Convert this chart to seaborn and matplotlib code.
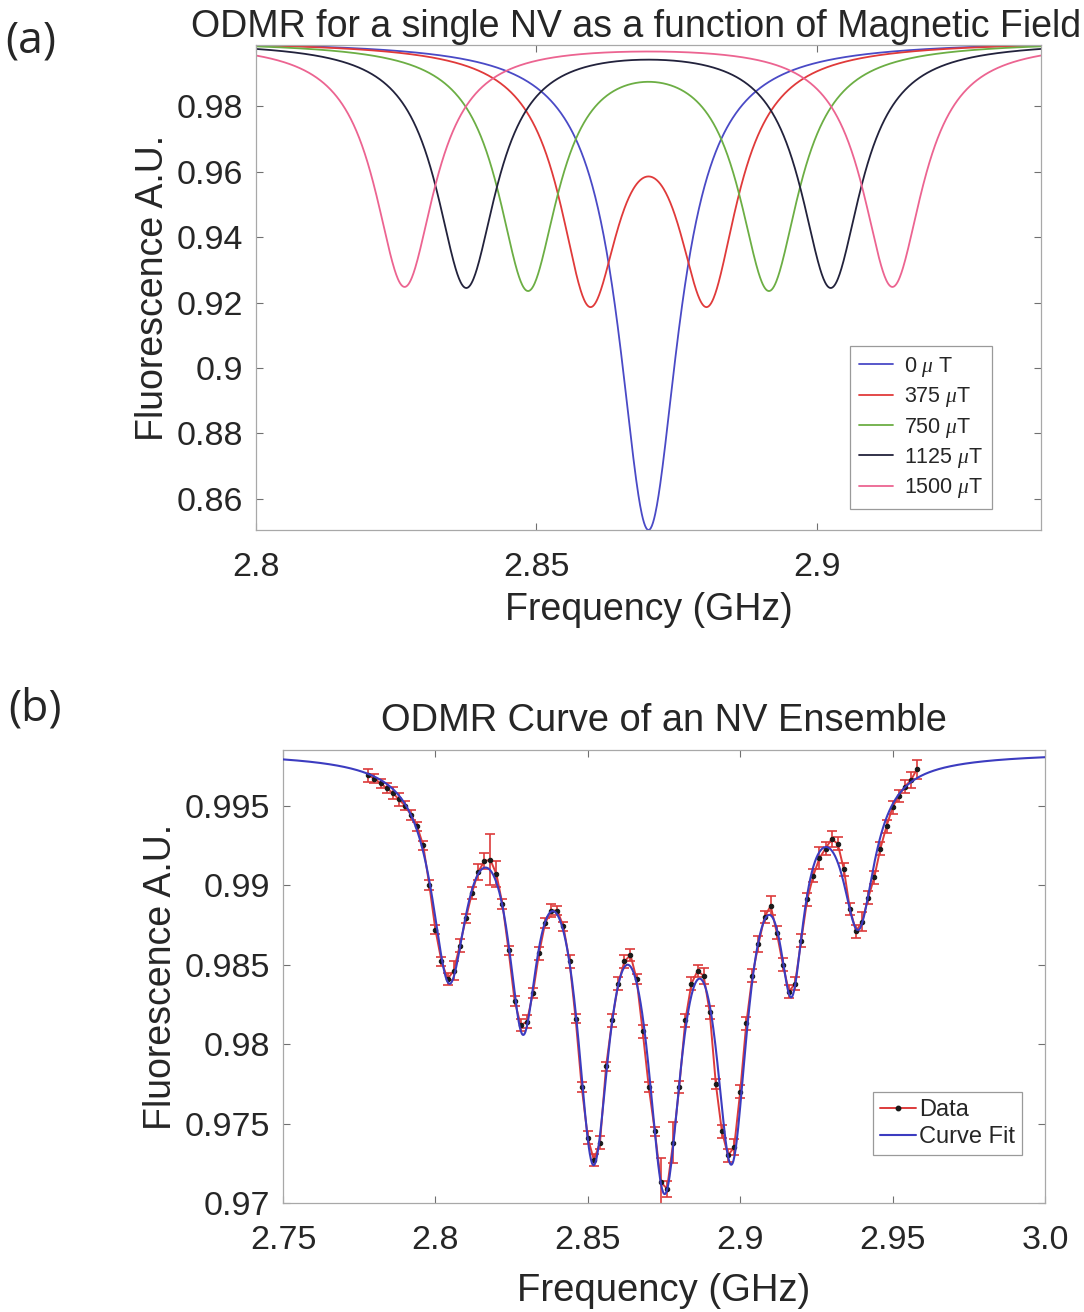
import numpy as np
import pandas as pd
import matplotlib
matplotlib.use("Agg")
import matplotlib.pyplot as plt
from matplotlib.lines import Line2D
import seaborn as sns

# ---------------- Panel (a): single NV, Lorentzian dips ----------------
field_labels = ["0 $\\mu$ T", "375 $\\mu$T", "750 $\\mu$T", "1125 $\\mu$T", "1500 $\\mu$T"]
dip_centers_a = [[2.8700], [2.8595, 2.8805], [2.8485, 2.8915], [2.8375, 2.9025], [2.8265, 2.9135]]
dip_depths_a = [[0.1495], [0.0748, 0.0748], [0.0748, 0.0748], [0.0748, 0.0748], [0.0748, 0.0748]]
hwhm_a = 0.0065
baseline_a = 1.0
colors_a = ["#4a4ac6", "#e03a3a", "#6cae44", "#22223c", "#ec6491"]
xticks_a = [2.8, 2.85, 2.9]
xticklabels_a = ["2.8", "2.85", "2.9"]
yticks_a = [0.86, 0.88, 0.90, 0.92, 0.94, 0.96, 0.98]
yticklabels_a = ["0.86", "0.88", "0.9", "0.92", "0.94", "0.96", "0.98"]

# ---------------- Panel (b): NV ensemble data ----------------
freq_b = [2.778, 2.780, 2.782, 2.784, 2.786, 2.788, 2.790, 2.792, 2.794, 2.796,
          2.798, 2.800, 2.802, 2.804, 2.806, 2.808, 2.810, 2.812, 2.814, 2.816,
          2.818, 2.820, 2.822, 2.824, 2.826, 2.828, 2.830, 2.832, 2.834, 2.836,
          2.838, 2.840, 2.842, 2.844, 2.846, 2.848, 2.850, 2.852, 2.854, 2.856,
          2.858, 2.860, 2.862, 2.864, 2.866, 2.868, 2.870, 2.872, 2.874, 2.876,
          2.878, 2.880, 2.882, 2.884, 2.886, 2.888, 2.890, 2.892, 2.894, 2.896,
          2.898, 2.900, 2.902, 2.904, 2.906, 2.908, 2.910, 2.912, 2.914, 2.916,
          2.918, 2.920, 2.922, 2.924, 2.926, 2.928, 2.930, 2.932, 2.934, 2.936,
          2.938, 2.940, 2.942, 2.944, 2.946, 2.948, 2.950, 2.952, 2.954, 2.956,
          2.958]
fluor_b = [0.9969, 0.9967, 0.9964, 0.9961, 0.9958, 0.9954, 0.9950, 0.9944, 0.9937, 0.9925,
           0.9900, 0.9872, 0.9852, 0.9841, 0.9846, 0.9862, 0.9879, 0.9895, 0.9908, 0.9915,
           0.9916, 0.9907, 0.9888, 0.9859, 0.9827, 0.9812, 0.9814, 0.9832, 0.9857, 0.9876,
           0.9884, 0.9884, 0.9874, 0.9852, 0.9816, 0.9773, 0.9741, 0.9727, 0.9738, 0.9786,
           0.9815, 0.9838, 0.9852, 0.9856, 0.9841, 0.9808, 0.9773, 0.9745, 0.9713, 0.9709,
           0.9738, 0.9773, 0.9815, 0.9838, 0.9846, 0.9843, 0.9820, 0.9775, 0.9745, 0.9730,
           0.9735, 0.9770, 0.9813, 0.9843, 0.9863, 0.9880, 0.9887, 0.9870, 0.9850, 0.9833,
           0.9838, 0.9865, 0.9891, 0.9906, 0.9917, 0.9923, 0.9929, 0.9926, 0.9910, 0.9885,
           0.9871, 0.9877, 0.9892, 0.9905, 0.9923, 0.9937, 0.9949, 0.9956, 0.9962, 0.9966,
           0.9973]
err_b = [0.0004, 0.0003, 0.0003, 0.0003, 0.0004, 0.0004, 0.0003, 0.0003, 0.0003, 0.0003,
         0.0003, 0.0003, 0.0003, 0.0004, 0.0006, 0.0004, 0.0003, 0.0004, 0.0005, 0.0005,
         0.0016, 0.0008, 0.0003, 0.0003, 0.0003, 0.0004, 0.0004, 0.0003, 0.0004, 0.0003,
         0.0004, 0.0003, 0.0003, 0.0004, 0.0003, 0.0003, 0.0004, 0.0004, 0.0004, 0.0003,
         0.0004, 0.0004, 0.0004, 0.0004, 0.0003, 0.0004, 0.0003, 0.0003, 0.0015, 0.0005,
         0.0013, 0.0004, 0.0004, 0.0004, 0.0004, 0.0005, 0.0004, 0.0003, 0.0004, 0.0004,
         0.0005, 0.0004, 0.0004, 0.0004, 0.0005, 0.0004, 0.0006, 0.0004, 0.0004, 0.0004,
         0.0004, 0.0004, 0.0004, 0.0004, 0.0007, 0.0004, 0.0005, 0.0004, 0.0004, 0.0004,
         0.0004, 0.0006, 0.0004, 0.0004, 0.0004, 0.0004, 0.0004, 0.0004, 0.0004, 0.0005,
         0.0006]
dip_centers_b = [2.8045, 2.8287, 2.8518, 2.8752, 2.8972, 2.9169, 2.9388]
xticks_b = [2.75, 2.80, 2.85, 2.90, 2.95, 3.00]
xticklabels_b = ["2.75", "2.8", "2.85", "2.9", "2.95", "3.0"]
yticks_b = [0.970, 0.975, 0.980, 0.985, 0.990, 0.995]
yticklabels_b = ["0.97", "0.975", "0.98", "0.985", "0.99", "0.995"]

# ---------------- style ----------------
sns.set_style("ticks")
plt.rcParams["font.family"] = ["Liberation Sans", "DejaVu Sans"]
plt.rcParams["mathtext.fontset"] = "custom"
plt.rcParams["mathtext.it"] = "Liberation Serif:italic"
plt.rcParams["mathtext.rm"] = "Liberation Sans"

TXT = "#262626"
SPINE = "#a8a8a8"

fig = plt.figure(figsize=(10.84, 13.12), dpi=100)


def lorentz(f, c, g):
    return 1.0 / (1.0 + ((f - c) / g) ** 2)


def style_axes(ax):
    for s in ax.spines.values():
        s.set_color(SPINE)
        s.set_linewidth(0.9)
    ax.tick_params(direction="in", length=5, width=0.8, color="#707070",
                   top=True, right=True, labelsize=24.5, labelcolor=TXT, pad=9)
    ax.tick_params(axis="x", pad=16)


# ---- Panel (a) ----
axA = fig.add_axes([256 / 1084, 1 - 530 / 1312, 785 / 1084, 485 / 1312])
f_a = np.linspace(2.8, 2.94, 1401)
rows = []
for lab, cs, ds in zip(field_labels, dip_centers_a, dip_depths_a):
    y = np.full_like(f_a, baseline_a)
    for c, d in zip(cs, ds):
        y = y - d * lorentz(f_a, c, hwhm_a)
    rows.append(pd.DataFrame({"freq": f_a, "fluor": y, "field": lab}))
dfA = pd.concat(rows, ignore_index=True)
sns.lineplot(data=dfA, x="freq", y="fluor", hue="field", hue_order=field_labels,
             palette=colors_a, linewidth=1.3, estimator=None, sort=False,
             legend=False, ax=axA)
axA.set_xlim(2.8, 2.94)
axA.set_ylim(dfA["fluor"].min(), dfA["fluor"].max())
axA.set_xticks(xticks_a)
axA.set_xticklabels(xticklabels_a)
axA.set_yticks(yticks_a)
axA.set_yticklabels(yticklabels_a)
style_axes(axA)
axA.set_xlabel("Frequency (GHz)", fontsize=27, color=TXT, labelpad=6)
axA.set_ylabel("Fluorescence A.U.", fontsize=27, color=TXT, labelpad=4)
axA.set_title("ODMR for a single NV as a function of Magnetic Field", fontsize=27,
              color=TXT, pad=6, x=0.484)
handlesA = [Line2D([0], [0], color=c, lw=1.3) for c in colors_a]
legA = fig.legend(handlesA, field_labels, loc="upper left",
                  bbox_to_anchor=(850 / 1084, 1 - 346 / 1312), fontsize=15.5,
                  frameon=True, fancybox=False, edgecolor="#9a9a9a",
                  handlelength=1.6, handletextpad=0.5, labelspacing=0.3,
                  borderpad=0.4, borderaxespad=0, framealpha=1)
legA.get_frame().set_linewidth(0.9)
for t in legA.get_texts():
    t.set_color(TXT)

# ---- Panel (b) ----
axB = fig.add_axes([283 / 1084, 1 - 1203 / 1312, 762 / 1084, 453 / 1312])
fd = np.array(freq_b)
vd = np.array(fluor_b)


def fit_resid(widths):
    M = np.column_stack([np.ones_like(fd)] +
                        [-lorentz(fd, c, w) for c, w in zip(dip_centers_b, widths)])
    coef = np.linalg.lstsq(M, vd, rcond=None)[0]
    return float(np.sum((M @ coef - vd) ** 2)), coef


widths = [0.006] * len(dip_centers_b)
grid = np.linspace(0.0025, 0.0120, 96)
for _ in range(5):
    for i in range(len(widths)):
        best = None
        for w in grid:
            trial = list(widths)
            trial[i] = w
            r, _c = fit_resid(trial)
            if best is None or r < best[0]:
                best = (r, w)
        widths[i] = best[1]
_, coef_fit = fit_resid(widths)
f_fit = np.linspace(2.75, 3.0, 1501)
y_fit = np.full_like(f_fit, coef_fit[0])
for c, w, a in zip(dip_centers_b, widths, coef_fit[1:]):
    y_fit = y_fit - a * lorentz(f_fit, c, w)

RED = "#dd3b3b"
BLUE = "#3c3cc0"
dfB = pd.DataFrame({"freq": freq_b, "fluor": fluor_b, "err": err_b})
axB.errorbar(dfB["freq"], dfB["fluor"], yerr=dfB["err"], fmt="none", ecolor=RED,
             elinewidth=1.2, capsize=3.6, capthick=1.2, zorder=2)
sns.lineplot(data=dfB, x="freq", y="fluor", color=RED, linewidth=1.4, marker="o",
             markersize=3.2, markerfacecolor="#1a1a1a", markeredgecolor="#1a1a1a",
             estimator=None, sort=False, ax=axB, zorder=3)
dfFit = pd.DataFrame({"freq": f_fit, "fluor": y_fit})
sns.lineplot(data=dfFit, x="freq", y="fluor", color=BLUE, linewidth=1.5,
             estimator=None, sort=False, ax=axB, zorder=4)
axB.set_xlim(2.75, 3.0)
axB.set_ylim(0.97, 0.9985)
axB.set_xticks(xticks_b)
axB.set_xticklabels(xticklabels_b)
axB.set_yticks(yticks_b)
axB.set_yticklabels(yticklabels_b)
style_axes(axB)
axB.set_xlabel("Frequency (GHz)", fontsize=27.5, color=TXT, labelpad=12)
axB.set_ylabel("Fluorescence A.U.", fontsize=27, color=TXT, labelpad=4)
axB.set_title("ODMR Curve of an NV Ensemble", fontsize=27.4, color=TXT, pad=14)
handlesB = [Line2D([0], [0], color=RED, lw=1.4, marker="o", markersize=3.2,
                   markerfacecolor="#1a1a1a", markeredgecolor="#1a1a1a"),
            Line2D([0], [0], color=BLUE, lw=1.5)]
legB = fig.legend(handlesB, ["Data", "Curve Fit"], loc="upper left",
                  bbox_to_anchor=(873 / 1084, 1 - 1092 / 1312), fontsize=17,
                  frameon=True, fancybox=False, edgecolor="#9a9a9a",
                  handlelength=1.5, handletextpad=0.15, labelspacing=0.2,
                  borderpad=0.3, borderaxespad=0, framealpha=1)
legB.get_frame().set_linewidth(0.9)
for t in legB.get_texts():
    t.set_color(TXT)

# panel letters
fig.text(5 / 1084, 1 - 52 / 1312, "(a)", fontsize=32, color=TXT,
         family=["Open Sans", "DejaVu Sans"])
fig.text(8 / 1084, 1 - 720 / 1312, "(b)", fontsize=32, color=TXT,
         family=["Open Sans", "DejaVu Sans"])

fig.savefig("out.png", dpi=100)
